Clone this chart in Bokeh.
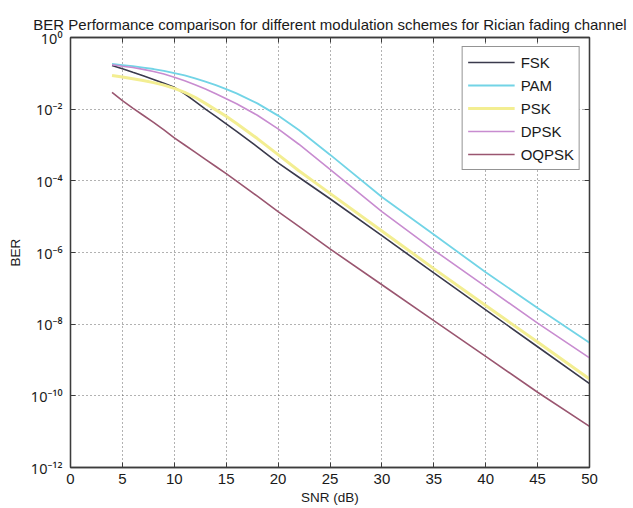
from bokeh.plotting import figure
from bokeh.models import LogAxis, LinearAxis, FixedTicker, Legend, LegendItem
from bokeh.embed import file_html
from bokeh.resources import INLINE

# ---- data ----
snr_db = [4, 5, 6, 7, 8, 9, 10, 11, 12, 13, 14, 15, 16, 18, 20, 22, 25, 30, 35, 40, 45, 50]

ber_fsk = [0.166, 0.135, 0.107, 0.0851, 0.0676, 0.0525, 0.0407, 0.0269, 0.0166, 0.0100, 6.31e-3,
           3.89e-3, 2.40e-3, 8.91e-4, 3.16e-4, 1.26e-4, 3.16e-5, 2.95e-6, 2.69e-7, 2.51e-8, 2.34e-9, 2.19e-10]
ber_pam = [0.182, 0.170, 0.158, 0.145, 0.132, 0.117, 0.102, 0.0871, 0.0724, 0.0589, 0.0468,
           0.0363, 0.0275, 0.0145, 6.61e-3, 2.63e-3, 5.37e-4, 3.55e-5, 3.16e-6, 2.82e-7, 2.82e-8, 3.02e-9]
ber_psk = [0.0871, 0.0794, 0.0708, 0.0631, 0.0550, 0.0468, 0.0380, 0.0295, 0.0214, 0.0145, 9.55e-3,
           6.31e-3, 3.98e-3, 1.51e-3, 5.37e-4, 1.91e-4, 4.47e-5, 3.98e-6, 3.55e-7, 3.31e-8, 3.16e-9, 2.95e-10]
ber_dpsk = [0.174, 0.158, 0.145, 0.129, 0.112, 0.0955, 0.0776, 0.0617, 0.0479, 0.0363, 0.0269,
            0.0195, 0.0141, 6.76e-3, 2.82e-3, 1.05e-3, 2.09e-4, 1.38e-5, 1.17e-6, 1.12e-7, 1.07e-8, 1.15e-9]
ber_oqpsk = [0.0295, 0.0174, 0.0107, 6.76e-3, 4.27e-3, 2.63e-3, 1.58e-3, 1.00e-3, 6.31e-4, 3.98e-4, 2.51e-4,
             1.58e-4, 9.77e-5, 3.72e-5, 1.38e-5, 5.37e-6, 1.26e-6, 1.26e-7, 1.26e-8, 1.26e-9, 1.26e-10, 1.41e-11]

series_names = ["FSK", "PAM", "PSK", "DPSK", "OQPSK"]

x_ticks = [0, 5, 10, 15, 20, 25, 30, 35, 40, 45, 50]
y_ticks = [1e0, 1e-2, 1e-4, 1e-6, 1e-8, 1e-10, 1e-12]
y_tick_labels = ["10\u2070", "10\u207b\u00b2", "10\u207b\u2074", "10\u207b\u2076",
                 "10\u207b\u2078", "10\u207b\u00b9\u2070", "10\u207b\u00b9\u00b2"]

title_text = "BER Performance comparison for different modulation schemes for Rician fading channel"

# ---- styling ----
FONT = "Liberation Sans"
YFONT = "Noto Sans"
AX = "#3c3c3c"
colors = {"FSK": "#3a3a4c", "PAM": "#72d4e6", "PSK": "#f3ee92", "DPSK": "#c88cd0", "OQPSK": "#9a5670"}
widths = {"FSK": 1.6, "PAM": 1.8, "PSK": 3.0, "DPSK": 1.6, "OQPSK": 1.6}

p = figure(width=633, height=508, x_range=(0, 50), y_range=(1e-12, 1), y_axis_type="log",
           output_backend="svg", toolbar_location=None,
           min_border_left=70, min_border_right=44, min_border_top=37, min_border_bottom=41)

p.title.text = title_text
p.title.text_font = FONT
p.title.text_font_size = "15px"
p.title.text_font_style = "normal"
p.title.text_color = "#1a1a1a"
p.title.align = "center"
p.title.standoff = 10

p.outline_line_color = AX
p.outline_line_width = 1.3
p.background_fill_color = "white"
p.border_fill_color = "white"

xt = FixedTicker(ticks=x_ticks, minor_ticks=[])
yt = FixedTicker(ticks=y_ticks, minor_ticks=[])
overrides = {t: lab for t, lab in zip(y_ticks, y_tick_labels)}

for ax in p.xaxis:
    ax.ticker = xt
    ax.axis_label = "SNR (dB)"
for ax in p.yaxis:
    ax.ticker = yt
    ax.major_label_overrides = overrides
    ax.axis_label = "BER"

for ax in list(p.xaxis) + list(p.yaxis):
    ax.axis_line_color = AX
    ax.axis_line_width = 1.3
    ax.major_tick_line_color = AX
    ax.major_tick_in = 5
    ax.major_tick_out = 0
    ax.minor_tick_line_color = None
    ax.major_label_text_font = FONT
    ax.major_label_text_font_size = "15px"
    ax.major_label_text_color = "#1a1a1a"
    ax.axis_label_text_font = FONT
    ax.axis_label_text_font_size = "13.5px"
    ax.axis_label_text_font_style = "normal"
    ax.axis_label_text_color = "#1a1a1a"

for ax in p.yaxis:
    ax.major_label_text_font = YFONT
    ax.major_label_text_font_size = "14.5px"

p.xaxis.major_label_standoff = 6
p.xaxis.axis_label_standoff = 3
p.yaxis.major_label_standoff = 8
p.yaxis.axis_label_standoff = 5

# mirrored tick marks on top and right (labels not drawn)
top = LinearAxis(ticker=xt, major_label_text_font_size="2px", major_label_text_color=None,
                 axis_line_color=AX, axis_line_width=1.3,
                 major_tick_in=5, major_tick_out=0, major_tick_line_color=AX, minor_tick_line_color=None,
                 major_label_standoff=0)
right = LogAxis(ticker=yt, major_label_text_font_size="2px", major_label_text_color=None,
                axis_line_color=AX, axis_line_width=1.3,
                major_tick_in=5, major_tick_out=0, major_tick_line_color=AX, minor_tick_line_color=None,
                major_label_standoff=0)
p.add_layout(top, "above")
p.add_layout(right, "right")

p.xgrid.ticker = xt
p.ygrid.ticker = yt
for g in (p.xgrid, p.ygrid):
    g.grid_line_color = "#555555"
    g.grid_line_dash = "1 3"
    g.grid_line_width = 1
    g.grid_line_alpha = 0.9

data = {"FSK": ber_fsk, "PAM": ber_pam, "PSK": ber_psk, "DPSK": ber_dpsk, "OQPSK": ber_oqpsk}
items = []
for name in series_names:
    r = p.line(snr_db, data[name], line_color=colors[name], line_width=widths[name])
    items.append(LegendItem(label=name, renderers=[r]))

legend = Legend(items=items, location="top_right", margin=9)
legend.border_line_color = "#2a2a2a"
legend.border_line_width = 1.2
legend.background_fill_color = "white"
legend.background_fill_alpha = 1
legend.label_text_font = FONT
legend.label_text_font_size = "15px"
legend.label_text_color = "#1a1a1a"
legend.glyph_width = 47
legend.glyph_height = 20
legend.spacing = 3
legend.padding = 5
legend.label_standoff = 6
legend.label_width = 52
p.add_layout(legend)

open("out.html", "w").write(file_html(p, INLINE))
